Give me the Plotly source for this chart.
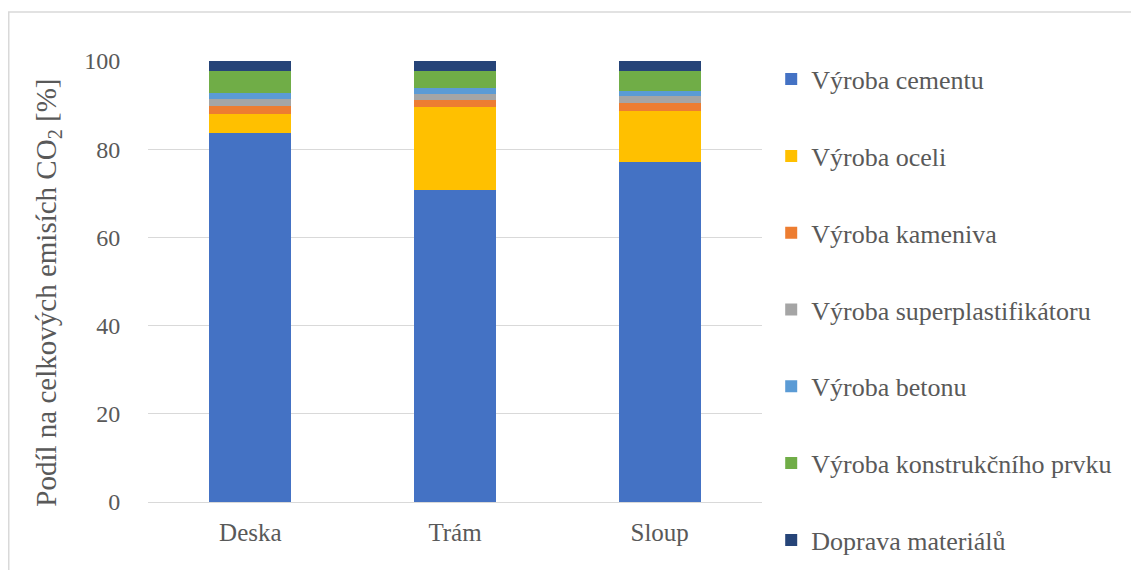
import plotly.graph_objects as go

# Structural elements and their CO2 shares (%) by emission source
elements = ["Deska", "Trám", "Sloup"]

vyroba_cementu = [83.7, 70.7, 77.1]
vyroba_oceli = [4.2, 18.9, 11.6]
vyroba_kameniva = [2.0, 1.6, 1.8]
vyroba_superplastifikatoru = [1.5, 1.3, 1.5]
vyroba_betonu = [1.4, 1.3, 1.2]
vyroba_konstrukcniho_prvku = [4.85, 3.9, 4.5]
doprava_materialu = [2.35, 2.3, 2.3]

y_ticks = [0, 20, 40, 60, 80, 100]
y_title = "Podíl na celkových emisích CO<sub>2</sub> [%]"

series = [
    ("Výroba cementu", vyroba_cementu, "#4472C4"),
    ("Výroba oceli", vyroba_oceli, "#FFC000"),
    ("Výroba kameniva", vyroba_kameniva, "#ED7D31"),
    ("Výroba superplastifikátoru", vyroba_superplastifikatoru, "#A5A5A5"),
    ("Výroba betonu", vyroba_betonu, "#5B9BD5"),
    ("Výroba konstrukčního prvku", vyroba_konstrukcniho_prvku, "#70AD47"),
    ("Doprava materiálů", doprava_materialu, "#264478"),
]

FONT = "Liberation Serif"
TEXT = "#595959"
GRID = "#D9D9D9"

fig = go.Figure()
for name, values, color in series:
    fig.add_trace(go.Bar(
        name=name,
        x=elements,
        y=values,
        marker=dict(color=color, line=dict(width=0)),
        width=0.4,
        legendgroup=name,
    ))

fig.update_layout(
    template="none",
    barmode="stack",
    width=1131,
    height=570,
    margin=dict(l=147.5, r=368.5, t=61, b=68),
    paper_bgcolor="white",
    plot_bgcolor="white",
    font=dict(family=FONT, color=TEXT, size=24),
    showlegend=True,
    legend=dict(
        x=1.015,
        xanchor="left",
        y=1.012,
        yanchor="top",
        traceorder="grouped",
        tracegroupgap=40,
        maxheight=570,
        font=dict(family=FONT, size=26, color=TEXT),
        itemwidth=30,
        bgcolor="rgba(0,0,0,0)",
    ),
    xaxis=dict(
        showgrid=False,
        showline=True,
        linecolor=GRID,
        linewidth=1,
        ticks="outside",
        ticklen=8,
        tickcolor="rgba(0,0,0,0)",
        tickfont=dict(family=FONT, size=25, color=TEXT),
    ),
    yaxis=dict(
        range=[0, 100],
        tickvals=y_ticks,
        showgrid=True,
        gridcolor=GRID,
        gridwidth=1,
        zeroline=False,
        showline=False,
        ticks="outside",
        ticklen=22,
        tickcolor="rgba(0,0,0,0)",
        tickfont=dict(family=FONT, size=24, color=TEXT),
    ),
    annotations=[
        dict(
            text=y_title,
            xref="paper",
            yref="paper",
            x=-0.1634,
            y=0.474,
            xanchor="center",
            yanchor="middle",
            textangle=-90,
            showarrow=False,
            font=dict(family=FONT, size=29, color=TEXT),
        )
    ],
    shapes=[
        dict(
            type="rect",
            xref="paper",
            yref="paper",
            x0=-0.2268,
            x1=1.7,
            y0=-0.3,
            y1=1.111,
            line=dict(color=GRID, width=1.5),
            fillcolor="rgba(0,0,0,0)",
            layer="below",
        )
    ],
)

fig.write_html("out.html")
